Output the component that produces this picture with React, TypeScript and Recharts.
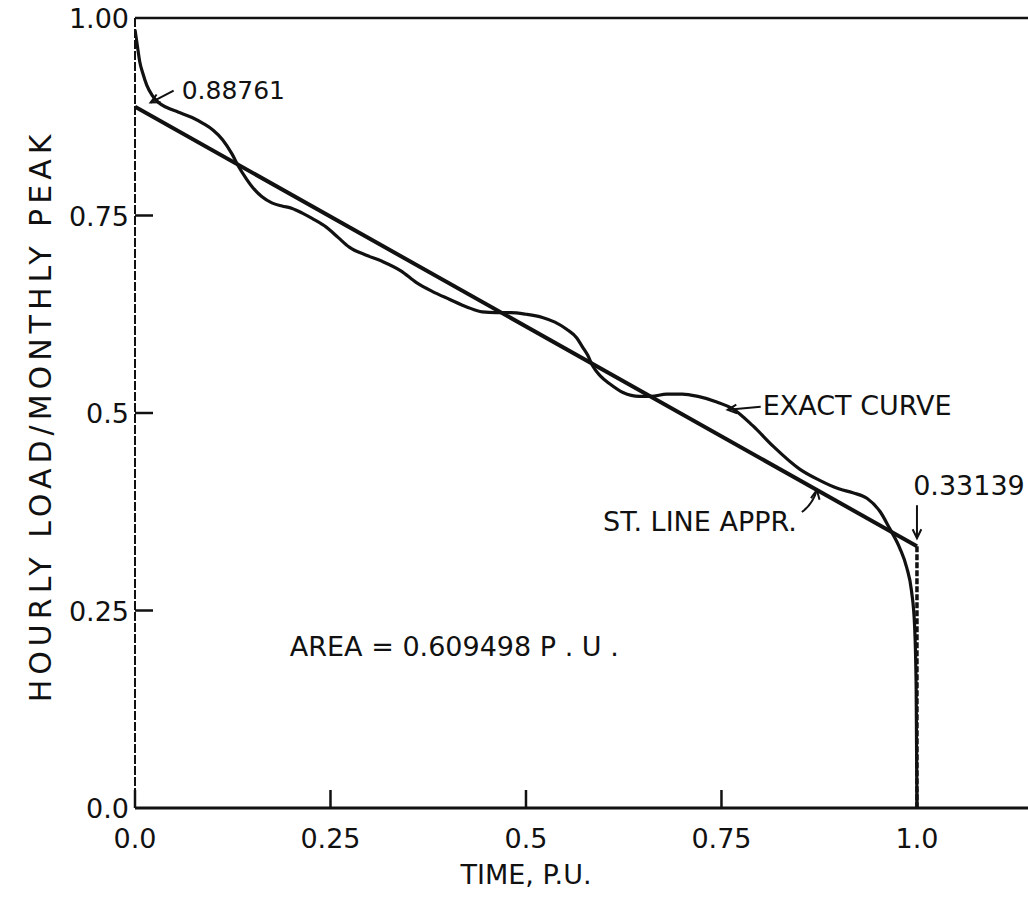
import { LineChart, Line, XAxis, YAxis, ReferenceLine, ReferenceDot, Label } from "recharts";

// exact load-duration curve
const exactX = [
  0, 0.003, 0.006, 0.010, 0.015, 0.022, 0.030, 0.040, 0.055, 0.073, 0.088, 0.100, 0.112, 0.124,
  0.133, 0.142, 0.150, 0.162, 0.175, 0.188, 0.201, 0.214, 0.227, 0.245, 0.260, 0.274, 0.295,
  0.316, 0.340, 0.360, 0.380, 0.402, 0.425, 0.444, 0.462, 0.480, 0.500, 0.521, 0.537, 0.552,
  0.565, 0.572, 0.579, 0.585, 0.595, 0.607, 0.624, 0.645, 0.660, 0.680, 0.700, 0.720, 0.744,
  0.765, 0.790, 0.816, 0.850, 0.875, 0.900, 0.918, 0.936, 0.953, 0.965, 0.978, 0.987, 0.993,
  0.997, 0.999, 1.0,
];
const exactY = [
  0.985, 0.965, 0.945, 0.930, 0.915, 0.902, 0.893, 0.887, 0.881, 0.874, 0.866, 0.858, 0.846, 0.828,
  0.811, 0.797, 0.786, 0.774, 0.766, 0.762, 0.759, 0.753, 0.746, 0.735, 0.722, 0.710, 0.700,
  0.692, 0.680, 0.665, 0.654, 0.644, 0.634, 0.628, 0.627, 0.627, 0.625, 0.621, 0.615, 0.606,
  0.595, 0.584, 0.573, 0.560, 0.547, 0.537, 0.526, 0.521, 0.521, 0.524, 0.524, 0.521, 0.514,
  0.505, 0.484, 0.458, 0.429, 0.415, 0.404, 0.399, 0.392, 0.375, 0.354, 0.329, 0.304, 0.275,
  0.230, 0.150, 0.0,
];

// straight line approximation
const lineX = [0, 1.0];
const lineY = [0.88761, 0.33139];
// drop at t = 1
const dropX = [1.0, 1.0];
const dropY = [0.33139, 0];

const xTicks = [0, 0.25, 0.5, 0.75, 1.0];
const xTickLabels = ["0.0", "0.25", "0.5", "0.75", "1.0"];
const yTicks = [0, 0.25, 0.5, 0.75, 1.0];
const yTickLabels = ["0.0", "0.25", "0.5", "0.75", "1.00"];

const exactData = exactX.map((t, i) => ({ t, v: exactY[i] }));
const lineData = lineX.map((t, i) => ({ t, v: lineY[i] }));
const dropData = dropX.map((t, i) => ({ t, v: dropY[i] }));

const FONT = "'DejaVu Sans', sans-serif";
const INK = "#111";

function XTick(props: any) {
  const { x, y, payload, index } = props;
  return (
    <g>
      <line x1={x} y1={y} x2={x} y2={y - 18} stroke={INK} strokeWidth={2.5} />
      <text x={x} y={y + 40} textAnchor="middle" fontSize={27} fontFamily={FONT} fill={INK}>
        {xTickLabels[index] ?? payload.value}
      </text>
    </g>
  );
}

function YTick(props: any) {
  const { x, y, payload, index } = props;
  return (
    <g>
      {payload.value > 0 && payload.value < 1 && (
        <line x1={x} y1={y} x2={x + 18} y2={y} stroke={INK} strokeWidth={2.5} />
      )}
      <text x={x - 6} y={y + 10} textAnchor="end" fontSize={27} fontFamily={FONT} fill={INK}>
        {yTickLabels[index] ?? payload.value}
      </text>
    </g>
  );
}

const arrowHead = (x: number, y: number, ang: number) => {
  const a1 = ang + 0.45, a2 = ang - 0.45, l = 10;
  return `${x + l * Math.cos(a1)},${y + l * Math.sin(a1)} ${x},${y} ${x + l * Math.cos(a2)},${y + l * Math.sin(a2)}`;
};

export default function App() {
  return (
    <div style={{ position: "absolute", left: 0, top: 0, background: "#fff" }}>
      <LineChart width={1028} height={903} margin={{ top: 18, right: 0, left: 0, bottom: 0 }}>
        <XAxis
          type="number"
          dataKey="t"
          domain={[0, 1.142]}
          allowDataOverflow
          ticks={xTicks}
          tick={<XTick />}
          tickSize={0}
          tickMargin={0}
          tickLine={false}
          axisLine={{ stroke: INK, strokeWidth: 3 }}
          height={95}
        >
          <Label
            content={(p: any) => (
              <text x={p.viewBox.x + 391} y={p.viewBox.y + 76} textAnchor="middle" fontSize={27} fontFamily={FONT} fill={INK}>
                TIME, P.U.
              </text>
            )}
          />
        </XAxis>
        <YAxis
          type="number"
          domain={[0, 1]}
          ticks={yTicks}
          tick={<YTick />}
          tickSize={0}
          tickMargin={0}
          tickLine={false}
          axisLine={{ stroke: INK, strokeWidth: 2, strokeDasharray: "9 2" }}
          width={135}
        >
          <Label
            content={(p: any) => {
              const cx = p.viewBox.x + 40;
              const cy = p.viewBox.y + p.viewBox.height / 2 + 3;
              return (
                <text x={cx} y={cy} transform={`rotate(-90 ${cx} ${cy})`} textAnchor="middle" dominantBaseline="central"
                  fontSize={30} letterSpacing={5} fontFamily={FONT} fill={INK}>
                  HOURLY LOAD/MONTHLY PEAK
                </text>
              );
            }}
          />
        </YAxis>
        <ReferenceLine y={1} stroke={INK} strokeWidth={2.5} />
        <Line data={exactData} dataKey="v" type="monotone" stroke={INK} strokeWidth={3.2} dot={false} isAnimationActive={false} />
        <Line data={lineData} dataKey="v" type="linear" stroke={INK} strokeWidth={4} dot={false} isAnimationActive={false} />
        <Line data={dropData} dataKey="v" type="linear" stroke={INK} strokeWidth={3.5} strokeDasharray="6 2" dot={false} isAnimationActive={false} />

        <ReferenceDot x={0.02} y={0.893} r={0} shape={(p: any) => (
          <g>
            <line x1={p.cx + 23} y1={p.cy - 12} x2={p.cx} y2={p.cy} stroke={INK} strokeWidth={2} />
            <polyline points={arrowHead(p.cx, p.cy, Math.atan2(-12, 23))} fill="none" stroke={INK} strokeWidth={2} />
            <text x={p.cx + 31} y={p.cy - 4} fontSize={25} fontFamily={FONT} fill={INK}>0.88761</text>
          </g>
        )} />
        <ReferenceDot x={0.758} y={0.504} r={0} shape={(p: any) => (
          <g>
            <line x1={p.cx + 33} y1={p.cy - 3} x2={p.cx} y2={p.cy} stroke={INK} strokeWidth={2} />
            <polyline points={arrowHead(p.cx, p.cy, Math.atan2(-3, 33))} fill="none" stroke={INK} strokeWidth={2} />
            <text x={p.cx + 35} y={p.cy + 5} fontSize={27} fontFamily={FONT} fill={INK}>EXACT CURVE</text>
          </g>
        )} />
        <ReferenceDot x={0.872} y={0.4025} r={0} shape={(p: any) => (
          <g>
            <path d={`M${p.cx - 15},${p.cy + 22} Q${p.cx - 4},${p.cy + 14} ${p.cx},${p.cy}`} fill="none" stroke={INK} strokeWidth={2} />
            <polyline points={arrowHead(p.cx, p.cy, Math.atan2(22, -4))} fill="none" stroke={INK} strokeWidth={2} />
            <text x={p.cx - 20} y={p.cy + 41} textAnchor="end" fontSize={27} fontFamily={FONT} fill={INK}>ST. LINE APPR.</text>
          </g>
        )} />
        <ReferenceDot x={1.0} y={0.33139} r={0} shape={(p: any) => (
          <g>
            <line x1={p.cx} y1={p.cy - 41} x2={p.cx} y2={p.cy - 8} stroke={INK} strokeWidth={2} />
            <polyline points={arrowHead(p.cx, p.cy - 8, Math.atan2(-1, 0))} fill="none" stroke={INK} strokeWidth={2} />
            <text x={p.cx + 52} y={p.cy - 51} textAnchor="middle" fontSize={27} fontFamily={FONT} fill={INK}>0.33139</text>
          </g>
        )} />
        <ReferenceDot x={0.198} y={0.205} r={0} shape={(p: any) => (
          <text x={p.cx} y={p.cy + 10} fontSize={27} fontFamily={FONT} fill={INK}>AREA = 0.609498 P . U .</text>
        )} />
      </LineChart>
    </div>
  );
}
